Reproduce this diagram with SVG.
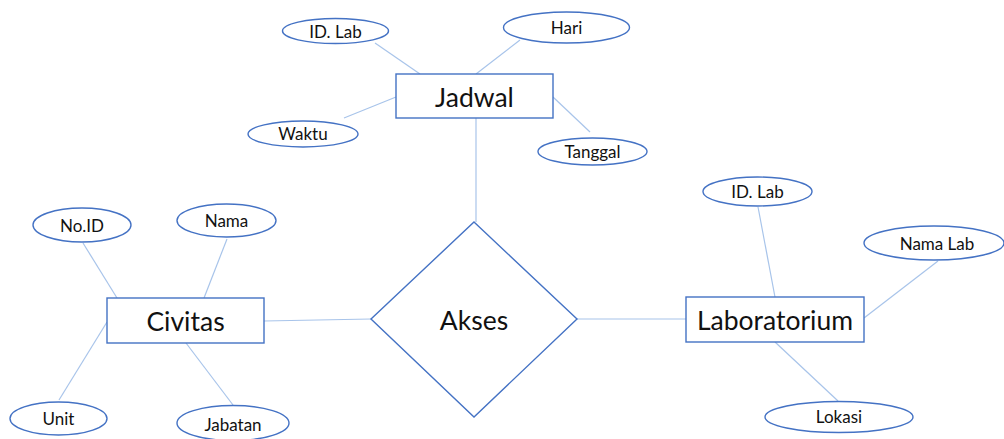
<svg xmlns="http://www.w3.org/2000/svg" width="1004" height="439" viewBox="0 0 1004 439">
<style>
.shape{fill:#fff;stroke:#4472C4;stroke-width:1.4}
.conn{stroke:#A8C4EA;stroke-width:1.2;fill:none}
.big{font-family:Lato,"Open Sans","Liberation Sans",sans-serif;font-size:26.5px;fill:#111;text-anchor:middle;dominant-baseline:central}
.small{font-family:Lato,"Open Sans","Liberation Sans",sans-serif;font-size:17px;fill:#111;text-anchor:middle;dominant-baseline:central}
</style>
<rect width="1004" height="439" fill="#fff"/>
<g id="connectors">
<line class="conn" x1="375" y1="43" x2="420" y2="74"/>
<line class="conn" x1="520" y1="40" x2="476" y2="74"/>
<line class="conn" x1="344" y1="118" x2="396" y2="97"/>
<line class="conn" x1="553" y1="97" x2="590" y2="132"/>
<line class="conn" x1="476" y1="118" x2="476" y2="222"/>
<line class="conn" x1="83" y1="243" x2="117" y2="298"/>
<line class="conn" x1="227" y1="239" x2="204" y2="298"/>
<line class="conn" x1="59" y1="400" x2="107" y2="322"/>
<line class="conn" x1="186" y1="343" x2="233" y2="405"/>
<line class="conn" x1="264" y1="321" x2="371" y2="319"/>
<line class="conn" x1="577" y1="319" x2="686" y2="319"/>
<line class="conn" x1="758" y1="207" x2="775" y2="297"/>
<line class="conn" x1="938" y1="261" x2="864" y2="318"/>
<line class="conn" x1="775" y1="342" x2="838" y2="401"/>
</g>
<g id="jadwal">
<rect class="shape" x="396" y="74" width="157" height="44"/>
<text class="big" x="474.5" y="97">Jadwal</text>
</g>
<g id="jadwal-idlab">
<ellipse class="shape" cx="335.5" cy="31" rx="53" ry="12.5"/>
<text class="small" x="335.5" y="31">ID. Lab</text>
</g>
<g id="hari">
<ellipse class="shape" cx="566.5" cy="27.5" rx="63" ry="15.5"/>
<text class="small" x="566.5" y="27">Hari</text>
</g>
<g id="waktu">
<ellipse class="shape" cx="303" cy="134" rx="55" ry="13"/>
<text class="small" x="303" y="133">Waktu</text>
</g>
<g id="tanggal">
<ellipse class="shape" cx="592.5" cy="151.5" rx="54.5" ry="13.5"/>
<text class="small" x="592.5" y="151">Tanggal</text>
</g>
<g id="akses">
<polygon class="shape" points="474,222 577,319 474,417 371,319"/>
<text class="big" x="474" y="320">Akses</text>
</g>
<g id="civitas">
<rect class="shape" x="107" y="298" width="157" height="45"/>
<text class="big" x="185.5" y="321">Civitas</text>
</g>
<g id="noid">
<ellipse class="shape" cx="82" cy="225" rx="49" ry="17"/>
<text class="small" x="82" y="225">No.ID</text>
</g>
<g id="nama">
<ellipse class="shape" cx="226.5" cy="220.5" rx="49.5" ry="16.5"/>
<text class="small" x="226.5" y="220">Nama</text>
</g>
<g id="unit">
<ellipse class="shape" cx="58.5" cy="418.5" rx="48.5" ry="16.5"/>
<text class="small" x="58.5" y="418">Unit</text>
</g>
<g id="jabatan">
<ellipse class="shape" cx="233" cy="423" rx="56" ry="17.5"/>
<text class="small" x="233" y="424">Jabatan</text>
</g>
<g id="laboratorium">
<rect class="shape" x="686" y="297" width="178" height="45"/>
<text class="big" x="775" y="320">Laboratorium</text>
</g>
<g id="lab-idlab">
<ellipse class="shape" cx="757.5" cy="191.5" rx="54.5" ry="14.5"/>
<text class="small" x="757.5" y="191">ID. Lab</text>
</g>
<g id="namalab">
<ellipse class="shape" cx="934" cy="243" rx="70" ry="17"/>
<text class="small" x="937" y="243">Nama Lab</text>
</g>
<g id="lokasi">
<ellipse class="shape" cx="839" cy="417" rx="74" ry="15.5"/>
<text class="small" x="839" y="416">Lokasi</text>
</g>
</svg>
